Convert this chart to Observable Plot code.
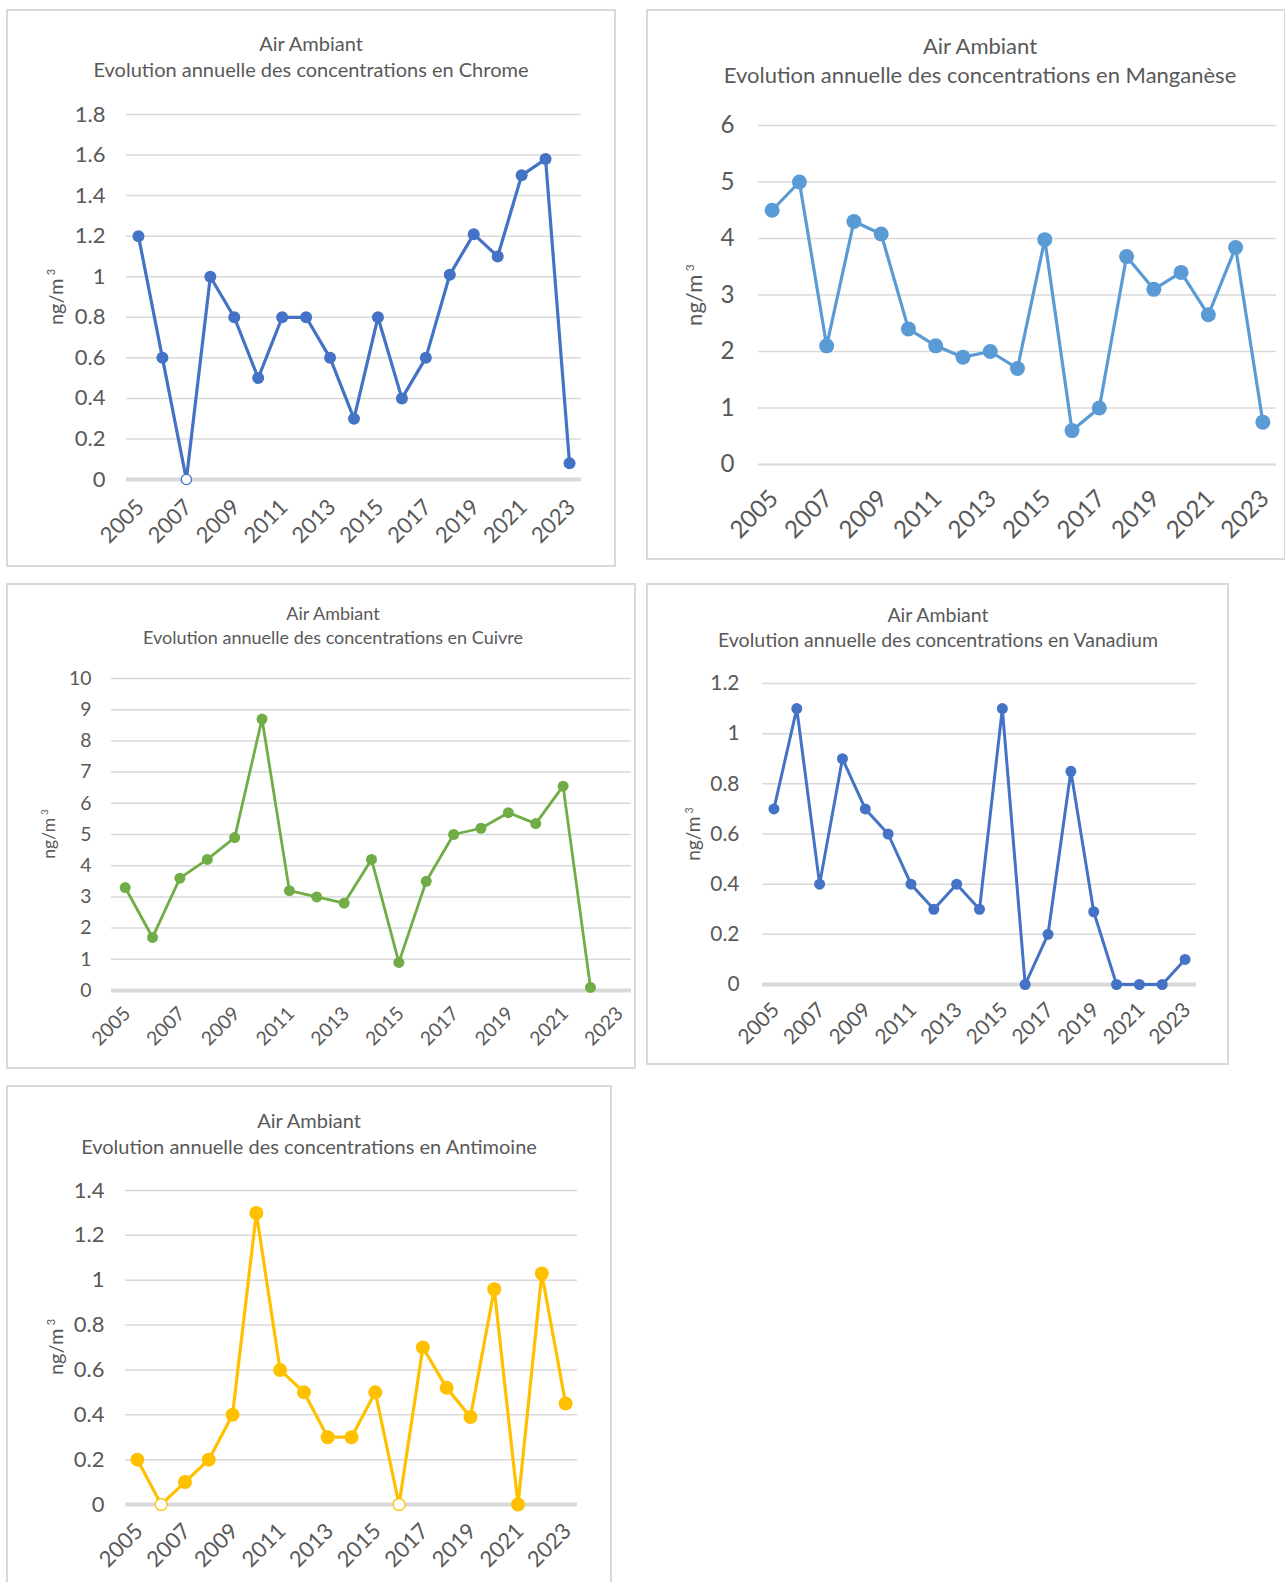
<!DOCTYPE html>
<html><head><meta charset="utf-8">
<script src="https://cdn.jsdelivr.net/npm/d3@7"></script>
<script src="https://cdn.jsdelivr.net/npm/@observablehq/plot@0.6"></script>
<style>
body{margin:0;background:#fff;font-family:Lato,"Open Sans",sans-serif;}
#root{position:relative;width:1285px;height:1582px;overflow:hidden;background:#fff;}
.panel{position:absolute;box-sizing:border-box;border:2px solid #d9d9d9;background:#fff;}
.title{position:absolute;text-align:center;color:#595959;white-space:nowrap;transform:translate(-50%,-50%);}
.ylab{position:absolute;color:#595959;white-space:nowrap;transform:translate(-50%,-50%) rotate(-90deg);}
.ylab sup{font-size:0.55em;margin-left:0.3em;vertical-align:0.7em;line-height:0;}
#root svg{position:absolute;}
</style></head>
<body><div id="root"></div>
<script>
// ---------- data ----------
const years = ["2005","2006","2007","2008","2009","2010","2011","2012","2013","2014","2015","2016","2017","2018","2019","2020","2021","2022","2023"];
const xTickYears = ["2005","2007","2009","2011","2013","2015","2017","2019","2021","2023"];
const titleLine1 = "Air Ambiant";
const yLabelBase = "ng/m";
const yLabelSup = "3";

const chrome     = [1.2, 0.6, 0, 1.0, 0.8, 0.5, 0.8, 0.8, 0.6, 0.3, 0.8, 0.4, 0.6, 1.01, 1.21, 1.1, 1.5, 1.58, 0.08];
const chromeHollow = ["2007"];
const chromeTicks = [0, 0.2, 0.4, 0.6, 0.8, 1, 1.2, 1.4, 1.6, 1.8];

const manganese  = [4.5, 5.0, 2.1, 4.3, 4.08, 2.4, 2.1, 1.9, 2.0, 1.7, 3.98, 0.6, 1.0, 3.68, 3.1, 3.4, 2.65, 3.84, 0.75];
const manganeseHollow = [];
const manganeseTicks = [0, 1, 2, 3, 4, 5, 6];

const cuivre     = [3.3, 1.7, 3.6, 4.2, 4.9, 8.7, 3.2, 3.0, 2.8, 4.2, 0.9, 3.5, 5.0, 5.2, 5.7, 5.35, 6.55, 0.1, null];
const cuivreHollow = [];
const cuivreTicks = [0, 1, 2, 3, 4, 5, 6, 7, 8, 9, 10];

const vanadium   = [0.7, 1.1, 0.4, 0.9, 0.7, 0.6, 0.4, 0.3, 0.4, 0.3, 1.1, 0, 0.2, 0.85, 0.29, 0, 0, 0, 0.1];
const vanadiumHollow = [];
const vanadiumTicks = [0, 0.2, 0.4, 0.6, 0.8, 1, 1.2];

const antimoine  = [0.2, 0, 0.1, 0.2, 0.4, 1.3, 0.6, 0.5, 0.3, 0.3, 0.5, 0, 0.7, 0.52, 0.39, 0.96, 0, 1.03, 0.45];
const antimoineHollow = ["2006", "2016"];
const antimoineTicks = [0, 0.2, 0.4, 0.6, 0.8, 1, 1.2, 1.4];

// ---------- layout ----------
const panels = [
  {name:"Chrome", values:chrome, hollow:chromeHollow, ticks:chromeTicks, color:"#4472C4",
   box:[6,9,616,567], plot:[126,114,581,479], t1:43, t2:69, tcx:311, ylx:55, s:1.0, ts:20, r:6, sw:3.2, zeroW:4, tp:21, xtp:24},
  {name:"Manganèse", values:manganese, hollow:manganeseHollow, ticks:manganeseTicks, color:"#5B9BD5",
   box:[646,9,1286,560], plot:[758,125,1276,464], t1:45, t2:74, tcx:980, ylx:693, s:1.1, ts:22, r:7.5, sw:3.2, zeroW:2, tp:24, xtp:30},
  {name:"Cuivre", values:cuivre, hollow:cuivreHollow, ticks:cuivreTicks, color:"#70AD47",
   box:[6,583,636,1069], plot:[111,678,631,990], t1:613, t2:637, tcx:333, ylx:48, s:0.88, ts:18, r:5.5, sw:2.8, zeroW:4, tp:20, xtp:20},
  {name:"Vanadium", values:vanadium, hollow:vanadiumHollow, ticks:vanadiumTicks, color:"#4472C4",
   box:[646,583,1229,1065], plot:[762,683,1196,984], t1:614, t2:639, tcx:938, ylx:692, s:0.95, ts:19.5, r:5.5, sw:3, zeroW:4, tp:23, xtp:22},
  {name:"Antimoine", values:antimoine, hollow:antimoineHollow, ticks:antimoineTicks, color:"#FFC000",
   box:[6,1085,612,1595], plot:[125,1190,577,1504], t1:1120, t2:1146, tcx:309, ylx:55, s:1.0, ts:20, r:7, sw:3.2, zeroW:4, tp:21, xtp:23}
];

const root = document.getElementById("root");
const fmt = d => String(+d.toFixed(1));

for (const p of panels) {
  const [bx0, by0, bx1, by1] = p.box;
  const [px0, py0, px1, py1] = p.plot;

  const border = document.createElement("div");
  border.className = "panel";
  Object.assign(border.style, {left:bx0+"px", top:by0+"px", width:(bx1-bx0)+"px", height:(by1-by0)+"px"});
  root.appendChild(border);

  const W = bx1 - bx0, H = by1 - by0;
  const table = years.map((year, i) => ({year, value: p.values[i], hollow: p.hollow.includes(year)}));

  const svg = Plot.plot({
    width: W, height: H,
    marginLeft: px0 - bx0, marginRight: bx1 - px1, marginTop: py0 - by0, marginBottom: by1 - py1,
    style: {fontFamily: "Lato, 'Open Sans', sans-serif", color: "#595959", background: "transparent", overflow: "visible"},
    x: {type: "point", domain: years, padding: 0.5, round: false},
    y: {domain: [0, d3.max(p.ticks)]},
    marks: [
      Plot.ruleY(p.ticks.filter(t => t > 0), {stroke: "#d9d9d9", strokeWidth: 1.5}),
      Plot.ruleY([0], {stroke: "#d9d9d9", strokeWidth: p.zeroW}),
      Plot.axisY({ticks: p.ticks, tickSize: 0, tickPadding: p.tp, fontSize: 22 * p.s, tickFormat: fmt, label: null}),
      Plot.axisX({ticks: xTickYears, tickSize: 0, tickPadding: p.xtp, dx: 2, tickRotate: -45, fontSize: 22 * p.s, label: null}),
      Plot.line(table, {x: "year", y: "value", stroke: p.color, strokeWidth: p.sw, strokeLinejoin: "round"}),
      Plot.dot(table.filter(d => d.value != null && !d.hollow), {x: "year", y: "value", r: p.r, fill: p.color}),
      Plot.dot(table.filter(d => d.hollow), {x: "year", y: "value", r: p.r * 0.85, fill: "white", stroke: p.color, strokeWidth: 1.3})
    ]
  });
  svg.style.left = bx0 + "px";
  svg.style.top = by0 + "px";
  root.appendChild(svg);

  for (const [txt, y] of [[titleLine1, p.t1], [`Evolution annuelle des concentrations en ${p.name}`, p.t2]]) {
    const t = document.createElement("div");
    t.className = "title";
    t.textContent = txt;
    Object.assign(t.style, {left: p.tcx + "px", top: y + "px", fontSize: p.ts + "px"});
    root.appendChild(t);
  }
  const yl = document.createElement("div");
  yl.className = "ylab";
  yl.textContent = yLabelBase;
  const sup = document.createElement("sup");
  sup.textContent = yLabelSup;
  yl.appendChild(sup);
  Object.assign(yl.style, {left: p.ylx + "px", top: ((py0 + py1) / 2) + "px", fontSize: (20 * p.s) + "px"});
  root.appendChild(yl);
}
</script>
</body></html>
